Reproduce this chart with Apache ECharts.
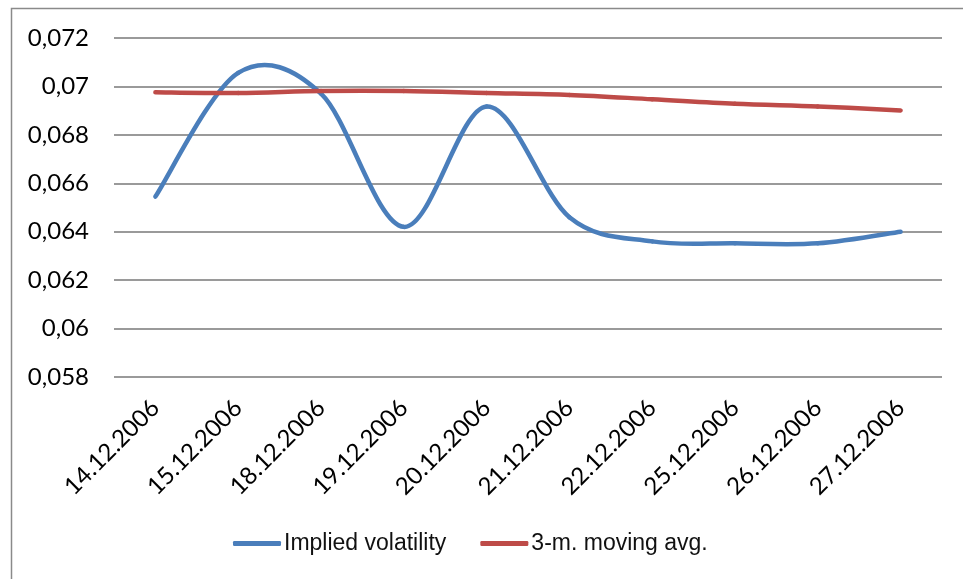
<!DOCTYPE html>
<html>
<head>
<meta charset="utf-8">
<script src="https://cdn.jsdelivr.net/npm/echarts@6/dist/echarts.min.js"></script>
<style>
  html, body { margin: 0; padding: 0; background: #ffffff; }
  #chart { width: 963px; height: 579px; }
</style>
</head>
<body>
<div id="chart"></div>
<script>
// Trading days on the category axis
const categories = [
  '14.12.2006', '15.12.2006', '18.12.2006', '19.12.2006', '20.12.2006',
  '21.12.2006', '22.12.2006', '25.12.2006', '26.12.2006', '27.12.2006'
];

// Daily implied volatility
const impliedVolatility = [0.06545, 0.07056, 0.06970, 0.06420, 0.06917, 0.06460, 0.06360, 0.06352, 0.06352, 0.06400];

// 3-month moving average of volatility
const movingAverage = [0.06976, 0.06973, 0.06981, 0.06981, 0.06973, 0.06965, 0.06947, 0.06928, 0.06917, 0.06901];

// Value axis ticks
const yMin = 0.058;
const yMax = 0.072;
const yStep = 0.002;

const seriesNames = ['Implied volatility', '3-m. moving avg.'];
const seriesColors = ['#4A7EBB', '#BE4B48'];

const labelFont = 'Lato, "Open Sans", sans-serif';
const legendFont = '"Liberation Sans Narrow", "Arial Narrow", "Liberation Sans", sans-serif';
const gridColor = '#9a9a9a';

// Smoothed polyline: each data item draws the cubic Bezier segment to the next
// point, with Catmull-Rom style control points taken from the neighbouring values.
function smoothRenderer(color) {
  return function (params, api) {
    const i = params.dataIndexInside;
    const n = params.dataInsideLength;
    if (i >= n - 1) return null;
    const pt = function (k) {
      const kk = Math.max(0, Math.min(n - 1, k));
      return api.coord([api.value(0, kk), api.value(1, kk)]);
    };
    const p0 = pt(i - 1), p1 = pt(i), p2 = pt(i + 1), p3 = pt(i + 2);
    return {
      type: 'bezierCurve',
      shape: {
        x1: p1[0], y1: p1[1],
        x2: p2[0], y2: p2[1],
        cpx1: p1[0] + (p2[0] - p0[0]) / 6,
        cpy1: p1[1] + (p2[1] - p0[1]) / 6,
        cpx2: p2[0] - (p3[0] - p1[0]) / 6,
        cpy2: p2[1] - (p3[1] - p1[1]) / 6
      },
      style: { fill: 'none', stroke: color, lineWidth: 4.5, lineCap: 'round', lineJoin: 'round' }
    };
  };
}

function toPairs(values) {
  return values.map(function (v, i) { return [i, v]; });
}

const chart = echarts.init(document.getElementById('chart'), null, { renderer: 'canvas' });

chart.setOption({
  animation: false,
  backgroundColor: '#ffffff',
  graphic: [{
    type: 'rect',
    silent: true,
    shape: { x: 11.5, y: 8.5, width: 1000, height: 700 },
    style: { fill: 'none', stroke: '#8a8a8a', lineWidth: 1.5 }
  }],
  grid: { left: 114, right: 21, top: 38, bottom: 202 },
  legend: {
    left: 228,
    top: 527,
    itemWidth: 48,
    itemHeight: 5,
    itemGap: 34,
    data: [
      { name: seriesNames[0], icon: 'roundRect' },
      { name: seriesNames[1], icon: 'roundRect' }
    ],
    textStyle: { fontFamily: legendFont, fontSize: 23, color: '#111111', padding: [0, 0, 0, -2] }
  },
  xAxis: {
    type: 'category',
    data: categories,
    boundaryGap: true,
    axisLine: { show: false },
    axisTick: { show: false },
    axisLabel: {
      rotate: 45,
      margin: 27,
      interval: 0,
      fontFamily: labelFont,
      fontSize: 24,
      color: '#000000'
    },
    splitLine: { show: false }
  },
  yAxis: {
    type: 'value',
    min: yMin,
    max: yMax,
    interval: yStep,
    axisLine: { show: false },
    axisTick: { show: false },
    axisLabel: {
      margin: 25,
      fontFamily: labelFont,
      fontSize: 24,
      color: '#000000',
      formatter: function (v) { return String(+v.toFixed(3)).replace('.', ','); }
    },
    splitLine: { show: true, lineStyle: { color: gridColor, width: 2 } }
  },
  series: [
    {
      name: seriesNames[0],
      type: 'custom',
      itemStyle: { color: seriesColors[0] },
      encode: { x: 0, y: 1 },
      data: toPairs(impliedVolatility),
      renderItem: smoothRenderer(seriesColors[0]),
      z: 3
    },
    {
      name: seriesNames[1],
      type: 'custom',
      itemStyle: { color: seriesColors[1] },
      encode: { x: 0, y: 1 },
      data: toPairs(movingAverage),
      renderItem: smoothRenderer(seriesColors[1]),
      z: 4
    }
  ]
});
</script>
</body>
</html>
